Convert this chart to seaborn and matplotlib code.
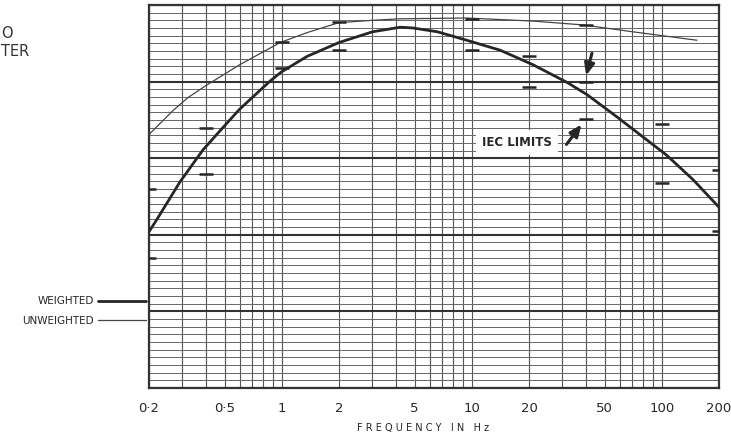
import numpy as np
import pandas as pd
import seaborn as sns
import matplotlib.pyplot as plt
from matplotlib.ticker import FixedLocator, LogLocator, MultipleLocator

# weighted response (thick curve)
w_freq = [0.2, 0.22, 0.291, 0.385, 0.49, 0.60, 0.87, 1.0, 1.36, 2.0, 3.0, 4.2,
          4.9, 6.6, 9.4, 14.1, 21, 31.7, 40.4, 58, 106, 146, 200]
w_db = [-29.6, -28.0, -23.1, -18.9, -16.0, -13.6, -9.9, -8.7, -6.7, -4.9, -3.5, -2.9,
        -3.0, -3.5, -4.6, -5.9, -7.8, -10.1, -11.7, -14.6, -19.6, -22.8, -26.4]

# unweighted response (thin curve)
u_freq = [0.2, 0.267, 0.32, 0.40, 0.60, 0.98, 1.36, 2.0, 3.0, 4.2, 9.4, 21, 38.5, 70.5, 153]
u_db = [-16.9, -13.8, -12.1, -10.5, -7.8, -4.9, -3.6, -2.3, -2.0, -1.8, -1.7, -2.1, -2.6, -3.5, -4.6]

# IEC limit marks
iec_freq = [0.2, 0.2, 0.4, 0.4, 1.0, 1.0, 2.0, 2.0, 10, 10, 20, 20, 40, 40, 40, 100, 100, 200, 200]
iec_db = [-24.0, -33.0, -16.1, -22.1, -4.8, -8.2, -2.2, -5.9, -1.8, -5.9, -6.7, -10.7,
          -2.6, -10.0, -14.9, -15.5, -23.2, -21.6, -29.5]

tick_vals = [0.2, 0.5, 1, 2, 5, 10, 20, 50, 100, 200]
tick_labels = ["0·2", "0·5", "1", "2", "5", "10", "20", "50", "100", "200"]

sns.set_style("white")
plt.rcParams['font.family'] = ['DejaVu Sans']

fig = plt.figure(figsize=(7.31, 4.37), dpi=100)
ax = fig.add_axes([149 / 731, 1 - 388 / 437, 570 / 731, 383 / 437])

ink = '#262626'
wdf = pd.DataFrame({"freq": w_freq, "db": w_db})
udf = pd.DataFrame({"freq": u_freq, "db": u_db})
sns.lineplot(data=wdf, x="freq", y="db", ax=ax, color=ink, lw=2.0, label="WEIGHTED", zorder=4)
sns.lineplot(data=udf, x="freq", y="db", ax=ax, color='#444444', lw=0.9, label="UNWEIGHTED", zorder=4)
ax.plot(iec_freq, iec_db, ls='none', marker='_', ms=10, mew=1.8, color=ink, zorder=5)

ax.set_xscale('log')
ax.set_xlim(0.2, 200)
ax.set_ylim(-50, 0)
ax.xaxis.set_major_locator(FixedLocator(tick_vals))
ax.xaxis.set_minor_locator(LogLocator(base=10, subs=np.arange(1, 10), numticks=20))
ax.set_xticklabels(tick_labels)
ax.yaxis.set_major_locator(MultipleLocator(10))
ax.yaxis.set_minor_locator(MultipleLocator(1))

ax.grid(which='both', axis='x', color='#555555', lw=0.8)
ax.grid(which='minor', axis='y', color='#666666', lw=0.7)
ax.grid(which='major', axis='y', color='#333333', lw=1.5)
ax.set_axisbelow(True)
ax.tick_params(axis='both', which='both', length=0)
ax.tick_params(axis='x', pad=10, labelsize=9.5, labelcolor=ink)
ax.tick_params(axis='y', labelleft=False)
for sp in ax.spines.values():
    sp.set_color('#333333')
    sp.set_linewidth(1.6)
ax.set_xlabel("")
ax.set_ylabel("")

fig.text(423 / 731, 1 - 428 / 437, "F R E Q U E N C Y   I N   H z", ha='center', va='center',
         fontsize=7, color=ink)

arrow = dict(arrowstyle='-|>,head_length=0.7,head_width=0.3', lw=2.2, color=ink,
             shrinkA=0, shrinkB=0)
ax.text(17.3, -17.9, "IEC LIMITS", ha='center', va='center', fontsize=8.5,
        fontweight='bold', color=ink, zorder=6,
        bbox=dict(boxstyle='square,pad=0.5', fc='white', ec='none'))
ax.annotate("", xy=(37.8, -15.6), xytext=(31.5, -18.2), arrowprops=arrow, zorder=6)
ax.annotate("", xy=(40, -9.2), xytext=(42.9, -6.3), arrowprops=arrow, zorder=6)

leg = ax.legend(loc='center right', bbox_to_anchor=(146 / 731, 1 - 311 / 437),
                bbox_transform=fig.transFigure, markerfirst=False, frameon=False,
                borderaxespad=0, borderpad=0,
                handlelength=4.6, handletextpad=0.4, labelspacing=0.9,
                prop=dict(size=7.5))
for t in leg.get_texts():
    t.set_color(ink)

fig.text(0.001, 1 - 33 / 437, "O", fontsize=10.5, color='#333333', va='center')
fig.text(0.001, 1 - 52 / 437, "TER", fontsize=10.5, color='#333333', va='center')

fig.savefig("out.png", dpi=100)
